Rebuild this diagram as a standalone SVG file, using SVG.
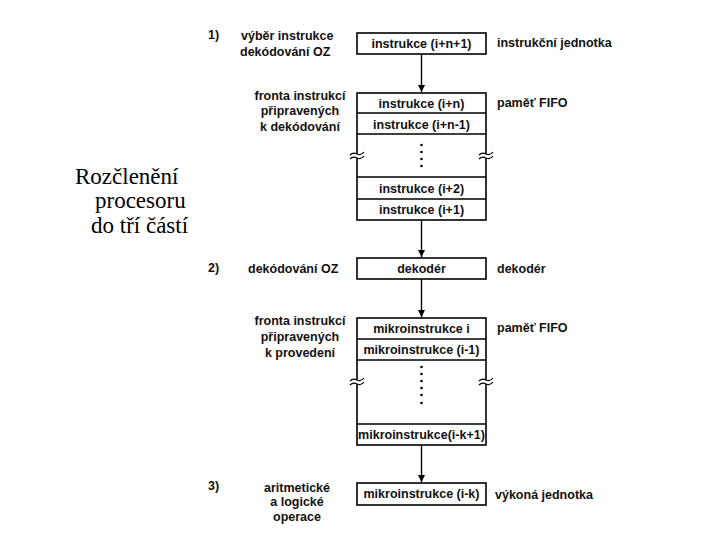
<svg xmlns="http://www.w3.org/2000/svg" width="720" height="540" viewBox="0 0 720 540">
<defs>
<marker id="ah" viewBox="0 0 10 10" refX="10" refY="5" markerWidth="7" markerHeight="7" markerUnits="userSpaceOnUse" orient="auto">
<path d="M0,0 L10,5 L0,10 z" fill="#000"/>
</marker>
<style>
.bx{fill:#fff;stroke:#000;stroke-width:1.6}
.ln{stroke:#000;stroke-width:1.4;fill:none}
.t{font-family:"Liberation Sans",Arial,sans-serif;font-weight:bold;font-size:12.5px;fill:#111}
.c{text-anchor:middle}
.tm{font-family:"Liberation Serif","Times New Roman",serif;font-size:23px;fill:#000}
.brk{stroke:#000;stroke-width:1.2;fill:none}
.gap{fill:#fff;stroke:none}
</style>
</defs>
<rect width="720" height="540" fill="#fff"/>

<g id="title">
<text class="tm" x="75" y="184">Rozčlenění</text>
<text class="tm" x="95" y="208">procesoru</text>
<text class="tm" x="91" y="233">do tří částí</text>
</g>

<g id="labels">
<text class="t" x="208" y="39">1)</text>
<text class="t" x="241" y="40">výběr instrukce</text>
<text class="t" x="240" y="56">dekódování OZ</text>
<text class="t" x="497" y="47">instrukční jednotka</text>
<text class="t c" x="300" y="100">fronta instrukcí</text>
<text class="t c" x="300" y="115">připravených</text>
<text class="t c" x="300" y="131">k dekódování</text>
<text class="t" x="497" y="107">paměť FIFO</text>
<text class="t" x="208" y="272">2)</text>
<text class="t" x="248" y="273">dekódování OZ</text>
<text class="t" x="497" y="273">dekodér</text>
<text class="t c" x="300" y="325">fronta instrukcí</text>
<text class="t c" x="300" y="341">připravených</text>
<text class="t c" x="300" y="357">k provedení</text>
<text class="t" x="497" y="332">paměť FIFO</text>
<text class="t" x="208" y="490">3)</text>
<text class="t c" x="297" y="492">aritmetické</text>
<text class="t c" x="297" y="506">a logické</text>
<text class="t c" x="297" y="521">operace</text>
<text class="t" x="495" y="499">výkoná jednotka</text>
</g>

<g id="n_instr_unit">
<rect class="bx" x="357" y="33" width="129" height="21"/>
<text class="t c" x="421.5" y="48">instrukce (i+n+1)</text>
</g>

<g id="n_fifo1">
<rect class="bx" x="357" y="93" width="129" height="127"/>
<line class="ln" x1="357" y1="113" x2="486" y2="113"/>
<line class="ln" x1="357" y1="134" x2="486" y2="134"/>
<line class="ln" x1="357" y1="177" x2="486" y2="177"/>
<line class="ln" x1="357" y1="199" x2="486" y2="199"/>
<text class="t c" x="421.5" y="108">instrukce (i+n)</text>
<text class="t c" x="421.5" y="129">instrukce (i+n-1)</text>
<g fill="#000">
<circle cx="421.5" cy="145" r="1.3"/>
<circle cx="421.5" cy="152" r="1.3"/>
<circle cx="421.5" cy="159" r="1.3"/>
<circle cx="421.5" cy="166" r="1.3"/>
</g>
<text class="t c" x="421.5" y="193">instrukce (i+2)</text>
<text class="t c" x="421.5" y="214">instrukce (i+1)</text>
<rect class="gap" x="355" y="154" width="4" height="4"/>
<rect class="gap" x="484" y="154" width="4" height="4"/>
<path class="brk" d="M350,155 q3,-3 7,-1 t7,-2"/>
<path class="brk" d="M350,159 q3,-3 7,-1 t7,-2"/>
<path class="brk" d="M479,155 q3,-3 7,-1 t7,-2"/>
<path class="brk" d="M479,159 q3,-3 7,-1 t7,-2"/>
</g>

<g id="n_decoder">
<rect class="bx" x="357" y="258" width="129" height="21"/>
<text class="t c" x="421.5" y="273">dekodér</text>
</g>

<g id="n_fifo2">
<rect class="bx" x="357" y="318" width="129" height="127"/>
<line class="ln" x1="357" y1="339" x2="486" y2="339"/>
<line class="ln" x1="357" y1="360" x2="486" y2="360"/>
<line class="ln" x1="357" y1="424" x2="486" y2="424"/>
<text class="t c" x="421.5" y="333">mikroinstrukce i</text>
<text class="t c" x="421.5" y="354">mikroinstrukce (i-1)</text>
<g fill="#000">
<circle cx="421.5" cy="367" r="1.3"/>
<circle cx="421.5" cy="374" r="1.3"/>
<circle cx="421.5" cy="381" r="1.3"/>
<circle cx="421.5" cy="388" r="1.3"/>
<circle cx="421.5" cy="395" r="1.3"/>
<circle cx="421.5" cy="403" r="1.3"/>
</g>
<text class="t c" x="421.5" y="439">mikroinstrukce(i-k+1)</text>
<rect class="gap" x="355" y="380" width="4" height="4"/>
<rect class="gap" x="484" y="380" width="4" height="4"/>
<path class="brk" d="M350,381 q3,-3 7,-1 t7,-2"/>
<path class="brk" d="M350,385 q3,-3 7,-1 t7,-2"/>
<path class="brk" d="M479,381 q3,-3 7,-1 t7,-2"/>
<path class="brk" d="M479,385 q3,-3 7,-1 t7,-2"/>
</g>

<g id="n_exec">
<rect class="bx" x="357" y="483" width="129" height="22"/>
<text class="t c" x="421.5" y="498">mikroinstrukce (i-k)</text>
</g>

<g id="connectors">
<line class="ln" x1="421.5" y1="54" x2="421.5" y2="92" marker-end="url(#ah)"/>
<line class="ln" x1="421.5" y1="220" x2="421.5" y2="257" marker-end="url(#ah)"/>
<line class="ln" x1="421.5" y1="279" x2="421.5" y2="317" marker-end="url(#ah)"/>
<line class="ln" x1="421.5" y1="445" x2="421.5" y2="482" marker-end="url(#ah)"/>
</g>
</svg>
